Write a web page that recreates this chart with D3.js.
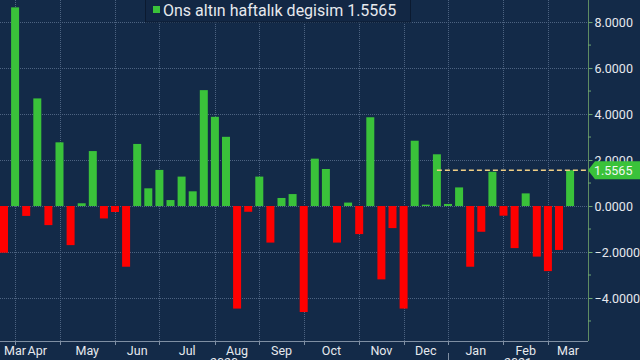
<!DOCTYPE html>
<html>
<head>
<meta charset="utf-8">
<script src="https://cdn.jsdelivr.net/npm/d3@7"></script>
<style>
  html, body { margin: 0; padding: 0; background: #132a48; }
  svg { display: block; font-family: "Liberation Sans Narrow", "Roboto", sans-serif; }
</style>
</head>
<body>
<svg id="chart" width="640" height="360"></svg>
<script>
// haftalik (cuma) tarihler
var weeks = ["2020-03-20","2020-03-27","2020-04-03","2020-04-10","2020-04-17","2020-04-24",
  "2020-05-01","2020-05-08","2020-05-15","2020-05-22","2020-05-29","2020-06-05","2020-06-12",
  "2020-06-19","2020-06-26","2020-07-03","2020-07-10","2020-07-17","2020-07-24","2020-07-31",
  "2020-08-07","2020-08-14","2020-08-21","2020-08-28","2020-09-04","2020-09-11","2020-09-18",
  "2020-09-25","2020-10-02","2020-10-09","2020-10-16","2020-10-23","2020-10-30","2020-11-06",
  "2020-11-13","2020-11-20","2020-11-27","2020-12-04","2020-12-11","2020-12-18","2020-12-25",
  "2021-01-01","2021-01-08","2021-01-15","2021-01-22","2021-01-29","2021-02-05","2021-02-12",
  "2021-02-19","2021-02-26","2021-03-05","2021-03-12"];

var degisim = [-2.03, 8.64, -0.43, 4.68, -0.83, 2.77, -1.70, 0.12, 2.39, -0.54, -0.26, -2.64, 2.70,
  0.77, 1.57, 0.26, 1.28, 0.64, 5.04, 3.88, 3.01, -4.46, -0.25, 1.28, -1.59, 0.35, 0.52,
  -4.61, 2.06, 1.61, -1.59, 0.15, -1.22, 3.86, -3.19, -0.96, -4.46, 2.84, 0.06, 2.25,
  0.09, 0.81, -2.64, -1.12, 1.49, -0.42, -1.83, 0.55, -2.20, -2.83, -1.91, 1.5565];

// ay sinirlari (ayin son cumasi) ve etiketler
var monthEnds = ["2020-03-27","2020-04-24","2020-05-29","2020-06-26","2020-07-31","2020-08-28",
  "2020-09-25","2020-10-30","2020-11-27","2020-12-25","2021-01-29","2021-02-26"];
var monthLabels = ["Mar","Apr","May","Jun","Jul","Aug","Sep","Oct","Nov","Dec","Jan","Feb","Mar"];
var yearLabels = ["2020","2021"];
var yTicks = [-4, -2, 0, 2, 4, 6, 8];
var yMinor = [-5, -3, -1, 1, 3, 5, 7];
var sonDeger = 1.5565;
var dashStart = "2020-12-18";

var W = 640, H = 360;
var plotRight = 588, plotBottom = 341;

var svg = d3.select('#chart');

var x = d3.scaleBand()
  .domain(weeks)
  .range([-1.55, 575.65])
  .paddingInner(0.28)
  .paddingOuter(0.14);

var y = d3.scaleLinear()
  .domain([-5.87, 8.96])
  .range([plotBottom, 0]);

function cx(d) { return x(d) + x.bandwidth() / 2; }

// yatay grid
svg.append('g')
  .selectAll('line')
  .data(yTicks)
  .enter()
  .append('line')
  .attr('x1', 0).attr('x2', plotRight)
  .attr('y1', function (d) { return Math.round(y(d)) + 0.5; })
  .attr('y2', function (d) { return Math.round(y(d)) + 0.5; })
  .attr('stroke', '#4d6381')
  .attr('stroke-dasharray', '1,1');

// dikey grid
svg.append('g')
  .selectAll('line')
  .data(monthEnds)
  .enter()
  .append('line')
  .attr('x1', function (d) { return Math.round(cx(d)) + 0.5; })
  .attr('x2', function (d) { return Math.round(cx(d)) + 0.5; })
  .attr('y1', 0).attr('y2', plotBottom)
  .attr('stroke', '#4d6381')
  .attr('stroke-dasharray', '1,1');

// barlar
svg.append('g')
  .selectAll('rect')
  .data(degisim)
  .enter()
  .append('rect')
  .attr('x', function (d, i) { return x(weeks[i]); })
  .attr('width', x.bandwidth())
  .attr('y', function (d) { return d >= 0 ? y(d) : y(0); })
  .attr('height', function (d) { return Math.abs(y(d) - y(0)); })
  .style('fill', function (d) { return d >= 0 ? '#3ac23a' : '#ff0000'; });

// son deger kesikli cizgi
svg.append('line')
  .attr('x1', cx(dashStart)).attr('x2', plotRight)
  .attr('y1', y(sonDeger)).attr('y2', y(sonDeger))
  .attr('stroke', '#f0cf86')
  .attr('stroke-width', 1.5)
  .attr('stroke-dasharray', '5,3');

// alt eksen
svg.append('line')
  .attr('x1', 0).attr('x2', plotRight)
  .attr('y1', plotBottom + 0.5).attr('y2', plotBottom + 0.5)
  .attr('stroke', '#7f8fa3');

svg.append('g')
  .selectAll('line')
  .data(monthEnds)
  .enter()
  .append('line')
  .attr('x1', function (d) { return Math.round(cx(d)) + 0.5; })
  .attr('x2', function (d) { return Math.round(cx(d)) + 0.5; })
  .attr('y1', plotBottom).attr('y2', plotBottom + 4)
  .attr('stroke', '#7f8fa3');

// ay etiketleri sinirlarin ortasinda
var bounds = [0].concat(monthEnds.map(cx)).concat([plotRight]);
svg.append('g')
  .selectAll('text')
  .data(monthLabels)
  .enter()
  .append('text')
  .attr('x', function (d, i) { return Math.max(15, (bounds[i] + bounds[i + 1]) / 2); })
  .attr('y', 355)
  .attr('text-anchor', 'middle')
  .attr('font-size', 12.5)
  .attr('fill', '#e6e9ee')
  .text(function (d) { return d; });

// yil etiketleri (alt kenarda kesik)
var yearBounds = [0, cx("2020-12-25"), plotRight];
svg.append('g')
  .selectAll('text')
  .data(yearLabels)
  .enter()
  .append('text')
  .attr('x', function (d, i) { return (yearBounds[i] + yearBounds[i + 1]) / 2; })
  .attr('y', 367)
  .attr('text-anchor', 'middle')
  .attr('font-size', 12.5)
  .attr('fill', '#e6e9ee')
  .text(function (d) { return d; });

svg.append('line')
  .attr('x1', Math.round(cx("2020-12-25")) + 0.5).attr('x2', Math.round(cx("2020-12-25")) + 0.5)
  .attr('y1', plotBottom + 12).attr('y2', H)
  .attr('stroke', '#7f8fa3');

// sag eksen
var yAxis = d3.axisRight(y)
  .tickValues(yTicks)
  .tickSize(4)
  .tickPadding(2)
  .tickFormat(d3.format('.4f'));

var gy = svg.append('g')
  .attr('transform', 'translate(' + (plotRight + 0.5) + ',0)')
  .call(yAxis);
gy.select('.domain').attr('stroke', '#5e8c62').attr('d', 'M0,0V' + plotBottom);
gy.selectAll('.tick line').attr('stroke', '#6fa872');
gy.selectAll('.tick text')
  .attr('fill', '#e6e9ee')
  .attr('font-size', 12.5)
  .attr('font-family', '"Liberation Sans Narrow", Roboto, sans-serif');

svg.append('g')
  .selectAll('line')
  .data(yMinor)
  .enter()
  .append('line')
  .attr('x1', plotRight).attr('x2', plotRight + 3)
  .attr('y1', function (d) { return y(d); })
  .attr('y2', function (d) { return y(d); })
  .attr('stroke', '#6fa872');

// son deger etiketi
var ty = y(sonDeger);
svg.append('path')
  .attr('d', 'M' + plotRight + ',' + ty + 'L' + (plotRight + 7) + ',' + (ty - 9) +
    'L' + W + ',' + (ty - 9) + 'L' + W + ',' + (ty + 9) + 'L' + (plotRight + 7) + ',' + (ty + 9) + 'Z')
  .attr('fill', '#3ac23a');
svg.append('text')
  .attr('x', 594)
  .attr('y', ty + 4.5)
  .attr('font-size', 12.5)
  .attr('fill', '#f2f7f2')
  .text(sonDeger.toFixed(4));

// legend
var leg = svg.append('g');
leg.append('rect')
  .attr('x', 145.5).attr('y', -2)
  .attr('width', 265).attr('height', 24)
  .attr('fill', '#122744')
  .attr('stroke', '#0b1a30');
leg.append('rect')
  .attr('x', 153).attr('y', 6)
  .attr('width', 7).attr('height', 7)
  .attr('fill', '#3ac23a');
leg.append('text')
  .attr('x', 163).attr('y', 16)
  .attr('font-size', 16)
  .attr('fill', '#e6e9ee')
  .text('Ons altın haftalık degisim ' + sonDeger);
</script>
</body>
</html>
